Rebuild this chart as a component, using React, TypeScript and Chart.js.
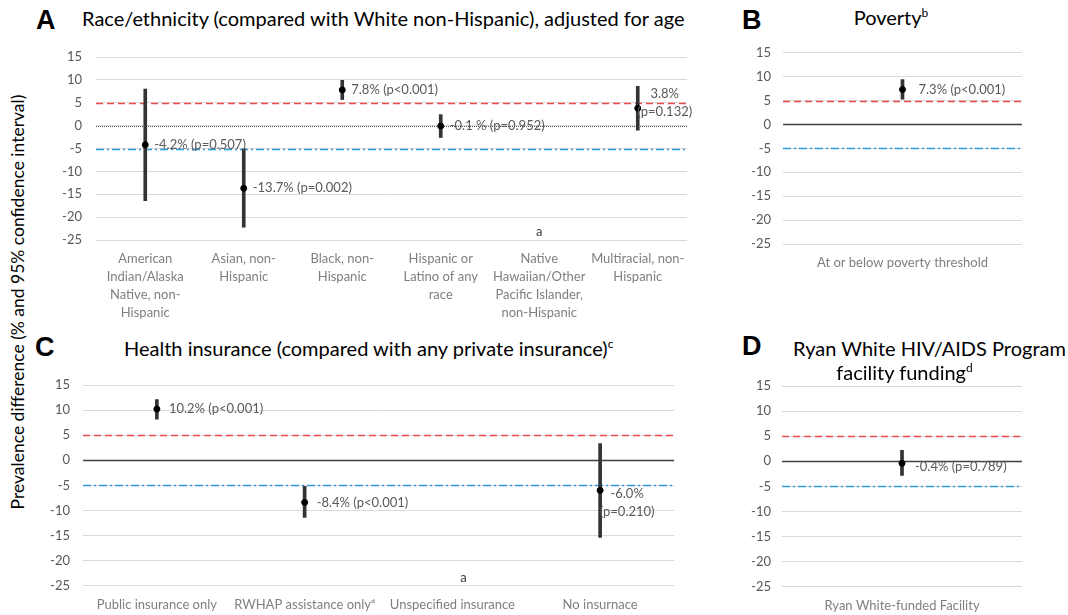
import React, { useEffect, useRef } from "react";
import { Chart, registerables } from "chart.js";
Chart.register(...registerables);

const FONT = "Lato, 'Noto Sans', sans-serif";

// ---------- data ----------
const yTickMin = -25;
const yTickMax = 15;
const yTickStep = 5;
const equivalenceBounds = [5, -5];

const raceCategories = [
  ["American", "Indian/Alaska", "Native, non-", "Hispanic"],
  ["Asian, non-", "Hispanic"],
  ["Black, non-", "Hispanic"],
  ["Hispanic or", "Latino of any", "race"],
  ["Native", "Hawaiian/Other", "Pacific Islander,", "non-Hispanic"],
  ["Multiracial, non-", "Hispanic"],
];
const raceEstimate = [-4.2, -13.7, 7.8, -0.1, null, 3.8];
const raceLower = [-16.4, -22.2, 5.7, -2.6, null, -1.0];
const raceUpper = [8.0, -5.1, 9.9, 2.4, null, 8.6];
const raceText = [["-4.2% (p=0.507)"], ["-13.7% (p=0.002)"], ["7.8% (p<0.001)"], ["-0.1 % (p=0.952)"], null, ["3.8%", "(p=0.132)"]];

const povertyCategories = ["At or below poverty threshold"];
const povertyEstimate = [7.3];
const povertyLower = [5.3];
const povertyUpper = [9.4];
const povertyText = [["7.3% (p<0.001)"]];

const insuranceCategories = ["Public insurance only", "RWHAP assistance only\u1d48", "Unspecified insurance", "No insurnace"];
const insuranceEstimate = [10.2, -8.4, null, -6.0];
const insuranceLower = [8.2, -11.4, null, -15.4];
const insuranceUpper = [12.1, -5.2, null, 3.3];
const insuranceText = [["10.2% (p<0.001)"], ["-8.4% (p<0.001)"], null, ["-6.0%", "(p=0.210)"]];

const ryanCategories = ["Ryan White-funded Facility"];
const ryanEstimate = [-0.4];
const ryanLower = [-2.8];
const ryanUpper = [2.2];
const ryanText = [["-0.4% (p=0.789)"]];

type Panel = {
  categories: any[];
  est: (number | null)[];
  lo: (number | null)[];
  hi: (number | null)[];
  text: (string[] | null)[];
  left: number; top: number; width: number; height: number;
  yW: number; xH: number; padTop: number; padRight: number; tickPad: number;
  zeroDotted: boolean; dx: number; dy: number; twoLineDy: number; aDx: number;
};

const panels: Panel[] = [
  { categories: raceCategories, est: raceEstimate, lo: raceLower, hi: raceUpper, text: raceText,
    left: 50, top: 45, width: 650, height: 285, yW: 46, xH: 90, padTop: 12, padRight: 13, tickPad: 14,
    zeroDotted: true, dx: 9, dy: 0, twoLineDy: -5, aDx: 0 },
  { categories: povertyCategories, est: povertyEstimate, lo: povertyLower, hi: povertyUpper, text: povertyText,
    left: 730, top: 40, width: 338, height: 240, yW: 53, xH: 36, padTop: 12.7, padRight: 46, tickPad: 12,
    zeroDotted: false, dx: 16, dy: 0, twoLineDy: 0, aDx: 0 },
  { categories: insuranceCategories, est: insuranceEstimate, lo: insuranceLower, hi: insuranceUpper, text: insuranceText,
    left: 40, top: 370, width: 660, height: 245, yW: 43, xH: 29.3, padTop: 15, padRight: 26, tickPad: 13,
    zeroDotted: false, dx: 12, dy: 0, twoLineDy: 12, aDx: 11 },
  { categories: ryanCategories, est: ryanEstimate, lo: ryanLower, hi: ryanUpper, text: ryanText,
    left: 730, top: 370, width: 338, height: 245, yW: 52, xH: 28.3, padTop: 16, padRight: 46, tickPad: 11,
    zeroDotted: false, dx: 13, dy: 4, twoLineDy: 0, aDx: 0 },
];

function makeChart(canvas: HTMLCanvasElement, p: Panel) {
  const decor = {
    id: "decor",
    beforeDatasetsDraw(chart: any) {
      const { ctx, chartArea: a, scales } = chart;
      const y = scales.y;
      const hline = (v: number, color: string, dash: number[], w: number) => {
        const py = Math.round(y.getPixelForValue(v)) + 0.5;
        ctx.save();
        ctx.strokeStyle = color;
        ctx.lineWidth = w;
        ctx.setLineDash(dash);
        ctx.beginPath();
        ctx.moveTo(a.left, py);
        ctx.lineTo(a.right, py);
        ctx.stroke();
        ctx.restore();
      };
      if (p.zeroDotted) hline(0, "#555555", [1, 1], 1);
      else hline(0, "#404040", [], 1.3);
      hline(equivalenceBounds[0], "#ec4b4b", [7, 4], 1.4);
      hline(equivalenceBounds[1], "#2f9bd6", [8, 3, 2, 3], 1.4);
    },
    afterDatasetsDraw(chart: any) {
      const { ctx, scales } = chart;
      const x = scales.x, y = scales.y;
      ctx.save();
      ctx.font = `13px ${FONT}`;
      ctx.fillStyle = "#595959";
      ctx.textBaseline = "middle";
      p.est.forEach((v, i) => {
        const px = x.getPixelForValue(i);
        if (v == null) {
          ctx.textAlign = "center";
          ctx.fillStyle = "#404040";
          ctx.fillText("a", px + p.aDx, y.getPixelForValue(yTickMin) - 8);
          ctx.fillStyle = "#595959";
          return;
        }
        const lines = p.text[i] || [];
        const py = y.getPixelForValue(v);
        if (lines.length === 1) {
          ctx.textAlign = "left";
          ctx.fillText(lines[0], px + p.dx, py + p.dy);
        } else {
          ctx.textAlign = "center";
          const c = py + p.twoLineDy;
          ctx.fillText(lines[0], px + 27, c - 9);
          ctx.fillText(lines[1], px + 27, c + 9);
        }
      });
      ctx.restore();
    },
  };

  return new Chart(canvas, {
    type: "bar",
    data: {
      labels: p.categories,
      datasets: [
        {
          type: "line",
          data: p.est as any,
          showLine: false,
          pointRadius: 3,
          pointBorderWidth: 1,
          pointBackgroundColor: "#000",
          pointBorderColor: "#000",
          order: 0,
        } as any,
        {
          type: "bar",
          data: p.lo.map((l, i) => (l == null ? null : [l, p.hi[i]])) as any,
          backgroundColor: "#333333",
          barThickness: 3,
          order: 1,
        },
      ],
    },
    options: {
      animation: false,
      responsive: false,
      events: [],
      layout: { autoPadding: false, padding: { top: p.padTop, right: p.padRight, left: 0, bottom: 0 } },
      plugins: { legend: { display: false }, tooltip: { enabled: false }, title: { display: false } },
      scales: {
        x: {
          type: "category",
          offset: true,
          grid: { display: false, drawTicks: false },
          border: { display: false },
          ticks: {
            color: "#7f7f7f",
            font: { family: FONT, size: 13, lineHeight: 18 / 13 },
            padding: 10,
            maxRotation: 0,
            autoSkip: false,
          },
          afterFit: (s: any) => { s.height = p.xH; s.paddingLeft = 0; s.paddingRight = 0; },
        },
        y: {
          min: yTickMin,
          max: yTickMax,
          grid: { color: "#d9d9d9", drawTicks: false, lineWidth: 1 },
          border: { display: false },
          ticks: {
            stepSize: yTickStep,
            color: "#595959",
            font: { family: FONT, size: 13 },
            padding: p.tickPad,
          },
          afterFit: (s: any) => { s.width = p.yW; s.paddingTop = 0; s.paddingBottom = 0; },
        },
      },
    } as any,
    plugins: [decor],
  });
}

function PanelCanvas({ p }: { p: Panel }) {
  const ref = useRef<HTMLCanvasElement>(null);
  useEffect(() => {
    const c = makeChart(ref.current!, p);
    return () => c.destroy();
  }, []);
  return (
    <canvas
      ref={ref}
      width={p.width}
      height={p.height}
      style={{ position: "absolute", left: p.left, top: p.top, width: p.width, height: p.height }}
    />
  );
}

function T({ x, cx, base, size, bold, children, color }: any) {
  const k = bold ? 0.8465 : 0.887;
  const centered = cx !== undefined;
  return (
    <div
      style={{
        position: "absolute",
        left: centered ? cx : x,
        top: base - k * size,
        transform: centered ? "translateX(-50%)" : undefined,
        fontSize: size,
        lineHeight: 1,
        whiteSpace: "nowrap",
        fontFamily: bold ? "'Liberation Sans', Arial, sans-serif" : FONT,
        fontWeight: bold ? 700 : 400,
        color: color || "#000",
      }}
    >
      {children}
    </div>
  );
}

const Sup = ({ c }: { c: string }) => (
  <span style={{ fontSize: 12, position: "relative", top: -8 }}>{c}</span>
);

export default function App() {
  return (
    <div style={{ position: "absolute", left: 0, top: 0, width: 1068, height: 615, background: "#fff", overflow: "hidden" }}>
      {panels.map((p, i) => (
        <PanelCanvas key={i} p={p} />
      ))}
      <T x={36} base={30} size={27} bold>A</T>
      <T x={82} base={26} size={20}>Race/ethnicity (compared with White non-Hispanic), adjusted for age</T>
      <T x={742} base={30} size={27} bold>B</T>
      <T cx={891} base={25} size={20}>Poverty<Sup c="b" /></T>
      <T x={35} base={357} size={27} bold>C</T>
      <T x={124} base={356} size={20}>Health insurance (compared with any private insurance)<Sup c="c" /></T>
      <T x={742} base={356} size={27} bold>D</T>
      <T cx={929.5} base={356} size={20}>Ryan White HIV/AIDS Program</T>
      <T cx={904.5} base={380} size={20}>facility funding<Sup c="d" /></T>
      <div
        style={{
          position: "absolute",
          left: 18 - 250,
          top: 302 - 9,
          width: 500,
          height: 18,
          lineHeight: "18px",
          fontSize: 17.5,
          textAlign: "center",
          fontFamily: FONT,
          color: "#000",
          transform: "rotate(-90deg)",
          whiteSpace: "nowrap",
        }}
      >
        Prevalence difference (% and 95% confidence interval)
      </div>
    </div>
  );
}
